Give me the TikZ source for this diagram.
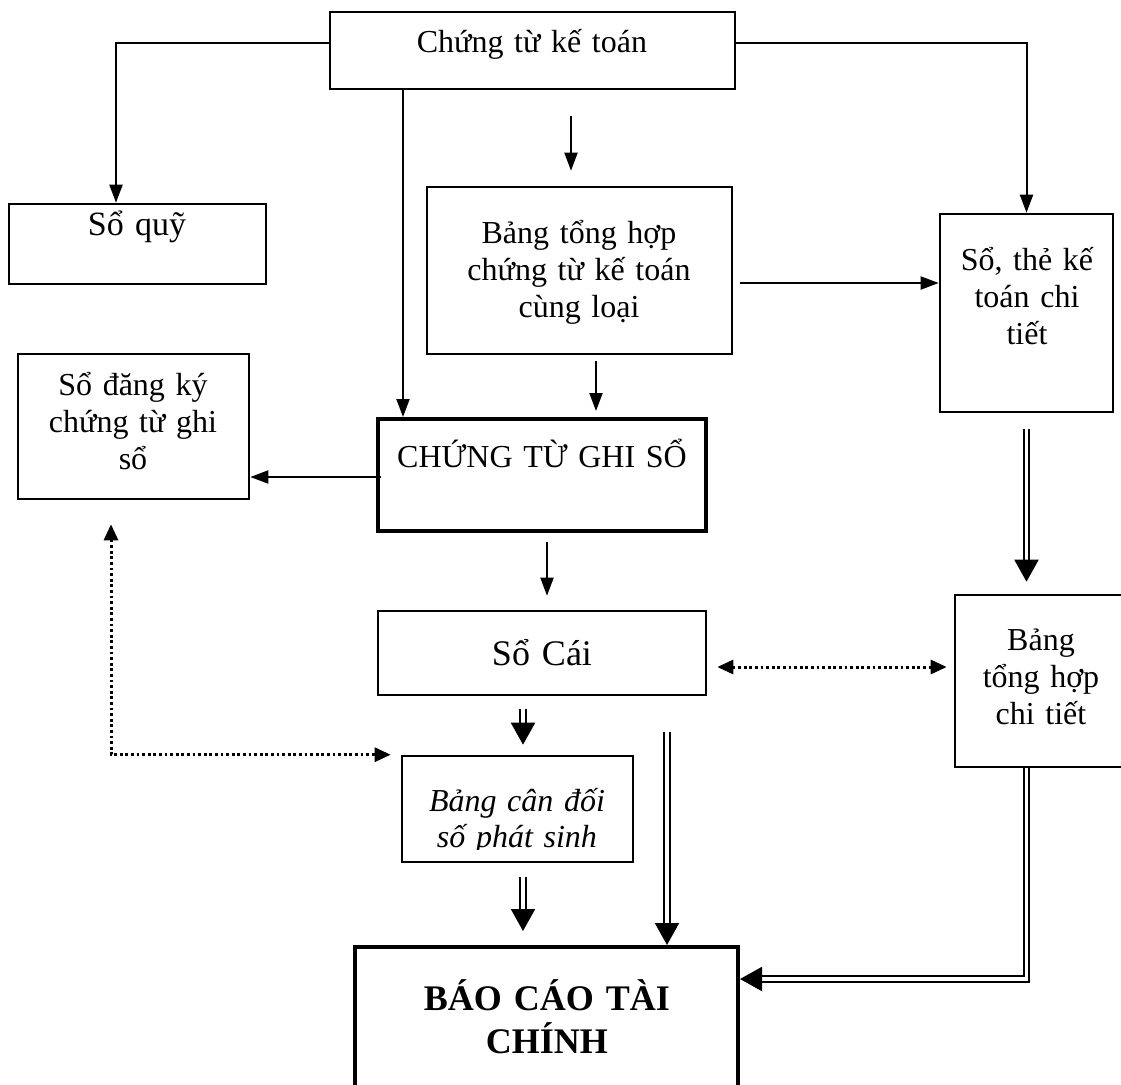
\documentclass[tikz,border=0pt]{standalone}
\usepackage{fontspec}
\setmainfont{Liberation Serif}
\usetikzlibrary{arrows.meta,fit}
\begin{document}
\begin{tikzpicture}[x=0.5pt,y=-0.5pt,
  box/.style={draw, line width=1.3pt, inner sep=0pt},
  thickbox/.style={draw, line width=2pt, inner sep=0pt},
  txt/.style={inner sep=0pt, align=center, font=\fontsize{16}{18.5}\selectfont, anchor=base},
  conn/.style={line width=1pt, -{Triangle[length=9pt,width=6.5pt]}},
  dbl/.style={double, line width=1pt, double distance=1.6pt, -{Triangle[length=11pt,width=12pt]}},
  dotarr/.style={line width=1.5pt, dash pattern=on 1.4pt off 1.4pt, {Triangle[length=8pt,width=7pt]}-{Triangle[length=8pt,width=7pt]}},
]
\useasboundingbox (0,0) rectangle (1121,1084);

% boxes
\node[box, fit={(330,12) (735,89)}] (ctkt) {};
\node[box, fit={(9,204) (266,284)}] (soquy) {};
\node[box, fit={(427,187) (732,354)}] (bth) {};
\node[box, fit={(940,214) (1113,412)}] (sothe) {};
\node[box, fit={(18,354) (249,499)}] (sdk) {};
\node[thickbox, fit={(378,419) (706,531)}] (ctgs) {};
\node[box, fit={(378,611) (706,695)}] (socai) {};
\node[box, fit={(955,595) (1127,767)}] (bthct) {};
\node[box, fit={(402,756) (633,862)}] (bcd) {};
\node[thickbox, fit={(355,947) (738,1110)}] (bctc) {};

% texts
\node[txt, text width=200pt] (t1) at (532,52) {Chứng từ kế toán};
\node[txt, text width=120pt, font=\fontsize{17}{20}\selectfont] (t2) at (137,235) {Sổ quỹ};
\node[txt, text width=150pt] (t3) at (579,243) {Bảng tổng hợp\\chứng từ kế toán\\cùng loại};
\node[txt, text width=80pt] (t4) at (1027,270) {Sổ, thẻ kế\\toán chi\\tiết};
\node[txt, text width=110pt] (t5) at (133,395) {Sổ đăng ký\\chứng từ ghi\\sổ};
\node[txt, text width=160pt] (t6) at (542,467) {CHỨNG TỪ GHI SỔ};
\node[txt, text width=160pt, font=\fontsize{18}{21}\selectfont] (t7) at (542,665) {Sổ Cái};
\node[txt, text width=80pt] (t8) at (1041,650) {Bảng\\tổng hợp\\chi tiết};
\begin{scope}
\clip (402,756) rectangle (633,849);
\node[txt, text width=110pt, font=\fontsize{16}{18}\selectfont\itshape] (t9) at (517,811) {Bảng cân đối\\số phát sinh};
\end{scope}
\node[txt, text width=190pt, font=\fontsize{18}{21.5}\selectfont\bfseries] (t10) at (547,1010) {BÁO CÁO TÀI\\CHÍNH};

% connectors
\draw[conn] (ctkt.west |- 0,43) -| (soquy.north -| 116,0);
\draw[conn] (ctkt.east |- 0,43) -| (sothe.north);
\draw[conn] (ctkt.south -| 403,0) -- (ctgs.north -| 403,0);
\draw[conn, shorten <=13pt, shorten >=7.5pt] (ctkt.south -| 571,0) -- (bth.north -| 571,0);
\draw[conn, shorten <=3pt, shorten >=3pt] (bth.south -| 596,0) -- (ctgs.north -| 596,0);
\draw[conn, shorten <=3.5pt] (bth.east |- 0,283) -- (sothe.west |- 0,283);
\draw[conn, shorten <=-2.5pt] (ctgs.west |- 0,477) -- (sdk.east |- 0,477);
\draw[conn, shorten <=4.5pt, shorten >=7pt] (ctgs.south -| 547,0) -- (socai.north -| 547,0);
\draw[dotarr, shorten <=5pt, shorten >=3.5pt] (socai.east |- 0,667) -- (bthct.west |- 0,667);
\draw[dbl, shorten <=6.5pt, shorten >=5pt] (socai.south -| 523,0) -- (bcd.north -| 523,0);
\draw[dbl, shorten <=8pt, shorten >=6pt] (sothe.south) -- (bthct.north -| sothe.south);
\coordinate (dstart) at (667,732);
\draw[dbl] (dstart) -- (bctc.north -| dstart);
\draw[dbl, shorten <=7pt, shorten >=7pt] (bcd.south -| 523,0) -- (bctc.north -| 523,0);
\draw[dbl] (bthct.south -| sothe.south) |- (bctc.east |- 0,979);
\draw[dotarr, shorten <=12pt, shorten >=5pt] (sdk.south -| 111,0) |- (bcd.north west);
\end{tikzpicture}
\end{document}
